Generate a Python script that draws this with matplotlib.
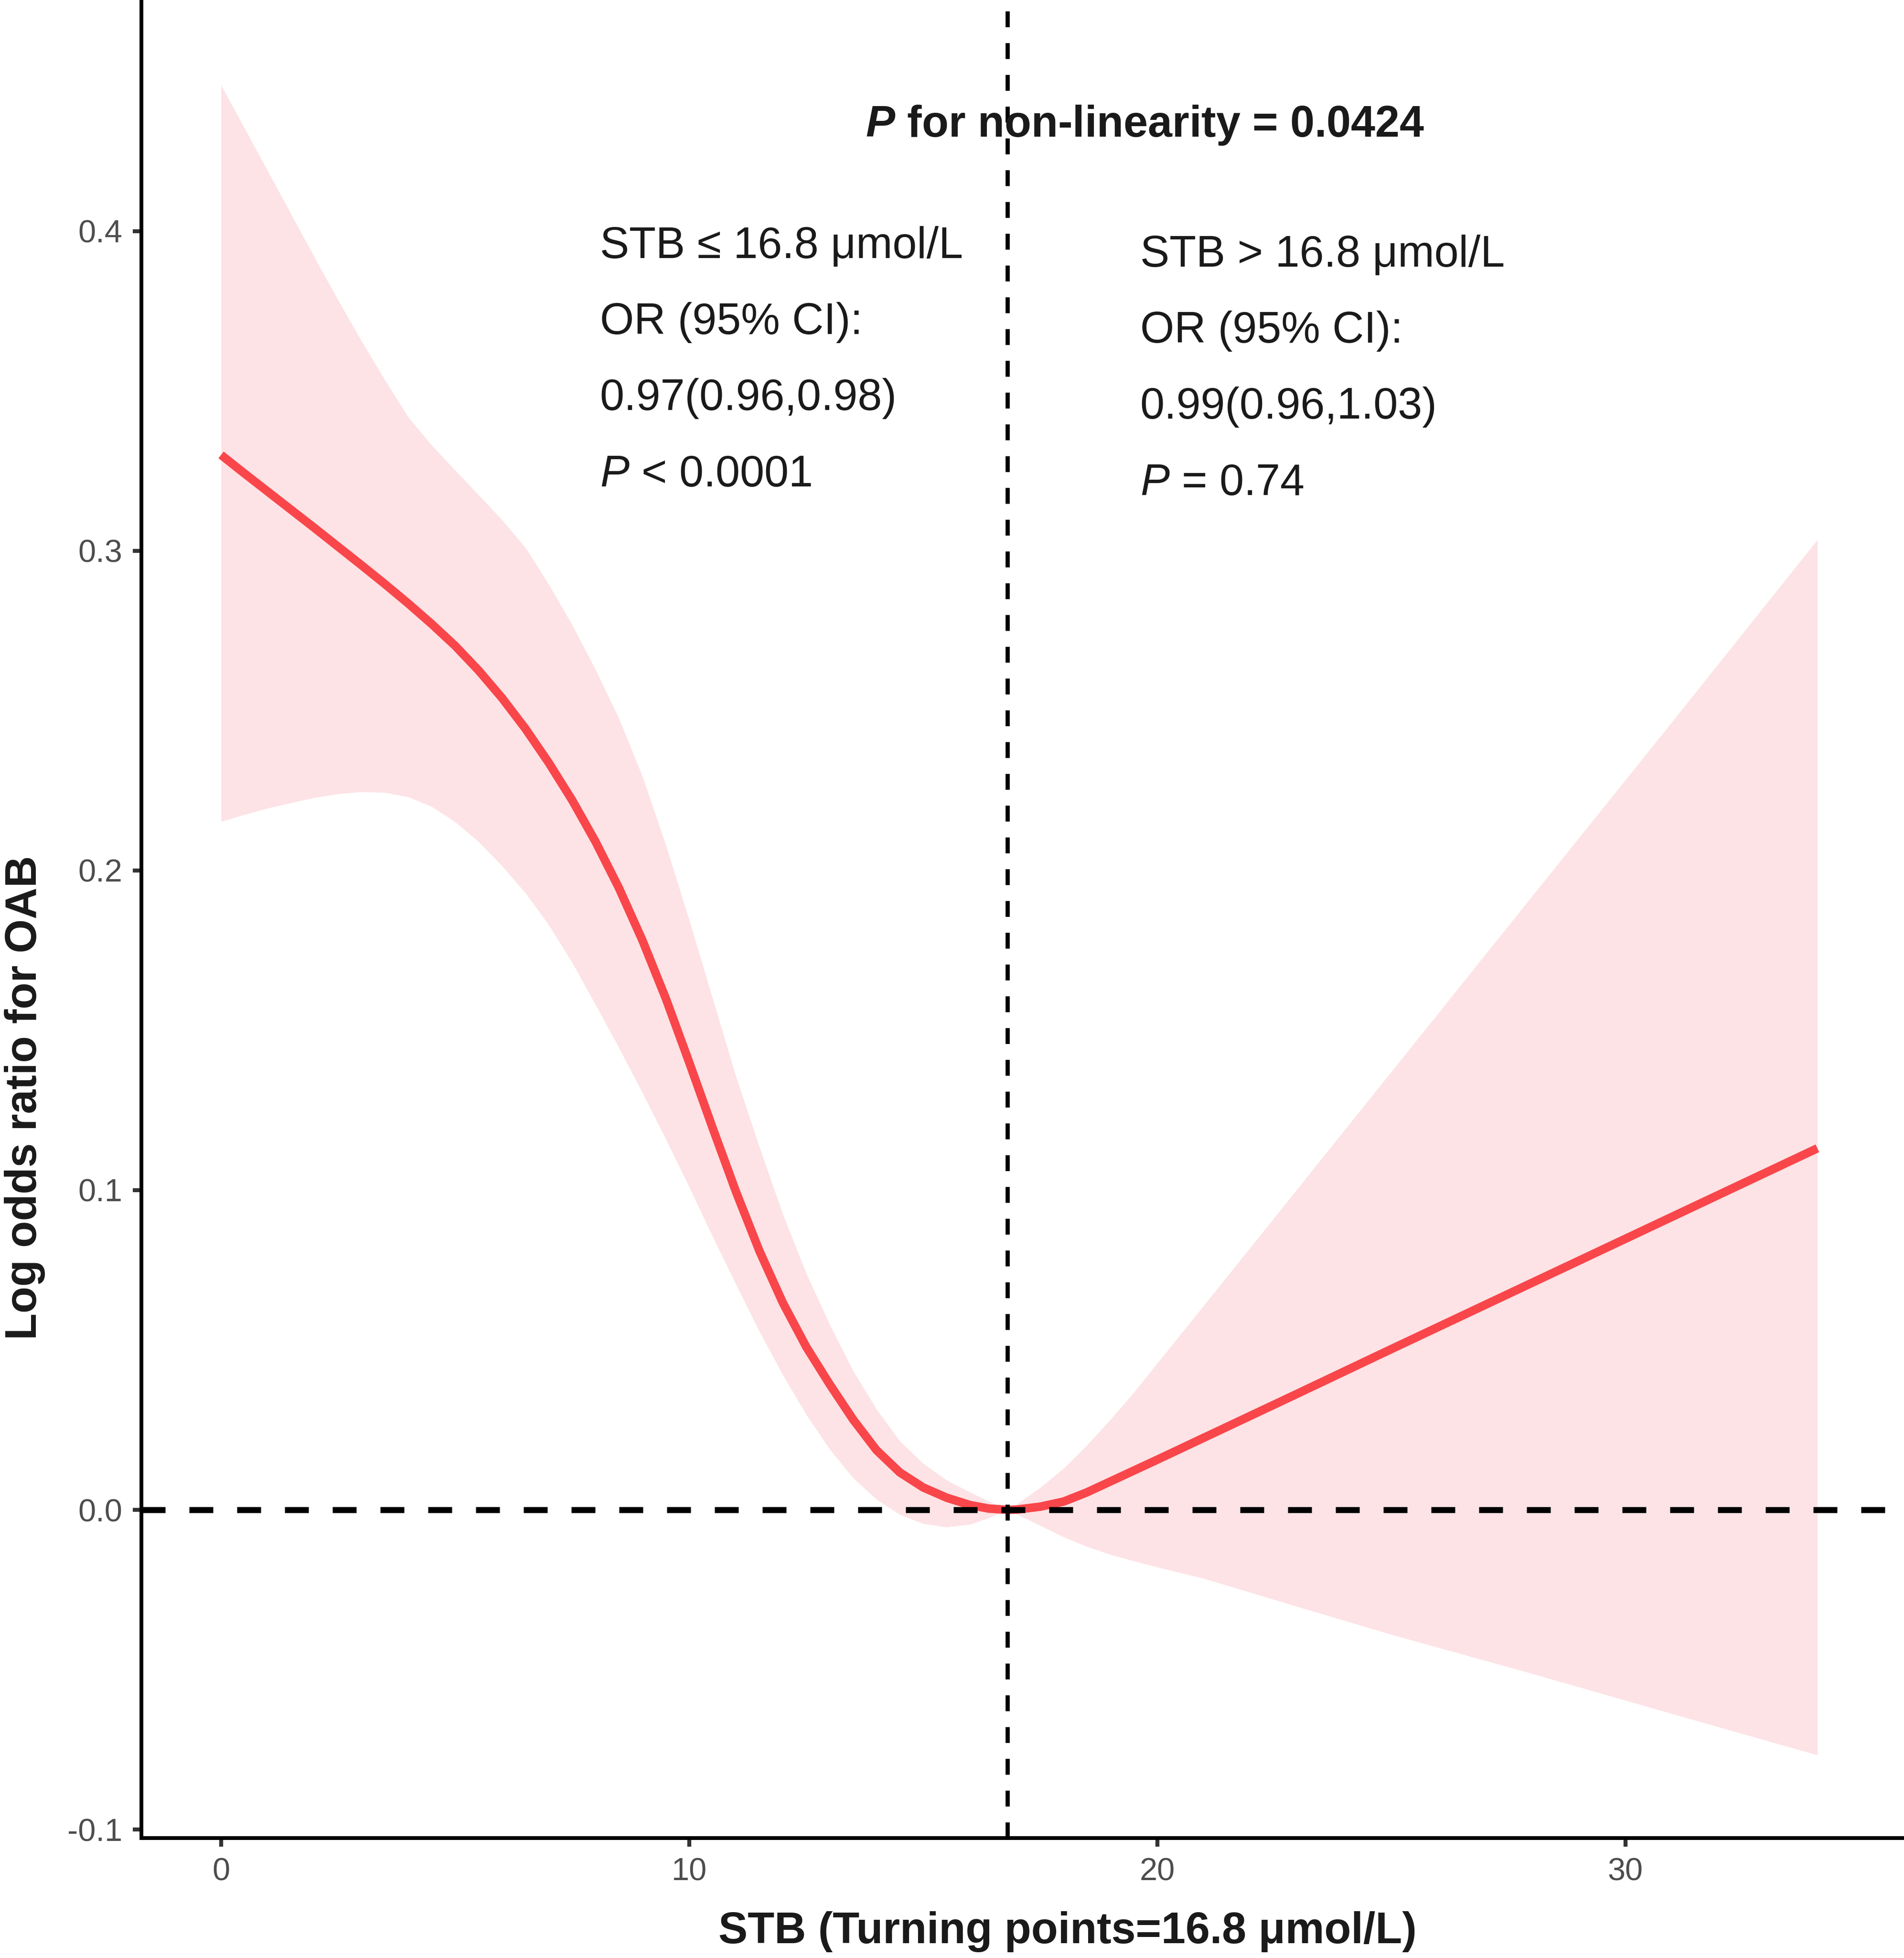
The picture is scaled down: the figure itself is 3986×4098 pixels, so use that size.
import matplotlib
matplotlib.use("Agg")
import matplotlib.pyplot as plt

# === Fonts ===
plt.rcParams['font.family'] = ['Liberation Sans', 'DejaVu Sans']
plt.rcParams['mathtext.fontset'] = 'custom'
plt.rcParams['mathtext.rm'] = 'Liberation Sans'
plt.rcParams['mathtext.it'] = 'Liberation Sans:italic'
plt.rcParams['mathtext.bf'] = 'Liberation Sans:bold'
plt.rcParams['mathtext.bfit'] = 'Liberation Sans:bold:italic'

# === Data ===
stb = [0, 0.5, 1, 1.5, 2, 2.5, 3, 3.5, 4, 4.5, 5, 5.5, 6, 6.5, 7, 7.5, 8, 8.5,
       9, 9.5, 10, 10.5, 11, 11.5, 12, 12.5, 13, 13.5, 14, 14.5, 15, 15.5, 16, 16.4, 16.8,
       17, 17.5, 18, 18.5, 19, 19.5, 20, 21, 23, 25, 28, 31, 34.1]
log_or = [0.330, 0.3242, 0.3185, 0.3128, 0.3071, 0.3013, 0.2955, 0.2896, 0.2835, 0.2771,
          0.2703, 0.2626, 0.2540, 0.2444, 0.2337, 0.2220, 0.2090, 0.1945,
          0.1782, 0.1600, 0.1400, 0.1195, 0.0995, 0.0810, 0.0648, 0.0510, 0.0393, 0.0283,
          0.0187, 0.0117, 0.0070, 0.0038, 0.0015, 0.0004, 0.0,
          0.0001, 0.001, 0.0026, 0.0055, 0.0089, 0.0123, 0.0157, 0.0226, 0.0364,
          0.0503, 0.0710, 0.0917, 0.1131]
ci_upper = [0.4457, 0.4322, 0.4187, 0.4052, 0.3917, 0.3784, 0.3656, 0.3534, 0.3418, 0.3330,
            0.3252, 0.3175, 0.3097, 0.3010, 0.2895, 0.2768, 0.2628, 0.2475,
            0.2295, 0.2080, 0.1845, 0.1600, 0.1355, 0.1135, 0.0925, 0.0740, 0.0580, 0.0435,
            0.0315, 0.0215, 0.0145, 0.0093, 0.0055, 0.0027, 0.0,
            0.0018, 0.007, 0.013, 0.0203, 0.0283, 0.0368, 0.0459, 0.0641, 0.1006,
            0.1371, 0.1919, 0.2466, 0.3035]
ci_lower = [0.2153, 0.2175, 0.2195, 0.2212, 0.2228, 0.2240, 0.2246, 0.2244, 0.2230, 0.2200,
            0.2152, 0.2090, 0.2015, 0.1930, 0.1830, 0.1712, 0.1580, 0.1445,
            0.1305, 0.1160, 0.1010, 0.0855, 0.0705, 0.0558, 0.0422, 0.0298, 0.0190, 0.0100,
            0.0033, -0.0015, -0.0043, -0.0054, -0.0045, -0.0025, 0.0,
            -0.0014, -0.0049, -0.0085, -0.0115, -0.0140, -0.0160, -0.0179, -0.0215, -0.0303,
            -0.0390, -0.0512, -0.0638, -0.0767]

turning_point = 16.8
x_ticks = [0, 10, 20, 30]
y_ticks = [-0.1, 0.0, 0.1, 0.2, 0.3, 0.4]
y_tick_labels = ['-0.1', '0.0', '0.1', '0.2', '0.3', '0.4']

# === Plot ===
fig = plt.figure(figsize=(3986 / 300, 4098 / 300), dpi=300)
ax = fig.add_axes([0.0743, 0.0612, 1 - 0.0743, 1 - 0.0612])

ax.fill_between(stb, ci_lower, ci_upper, color='#FDE3E6', linewidth=0, zorder=1)
ax.plot(stb, log_or, color='#F9464A', linewidth=4.27, solid_capstyle='butt',
        solid_joinstyle='round', zorder=2)
ax.axhline(0, color='black', linewidth=3, linestyle=(0, (4, 4)), zorder=3)
ax.axvline(turning_point, color='black', linewidth=2.1, linestyle=(0, (3.8, 3.8)), zorder=3)

ax.set_xlim(-1.70, 35.95)
ax.set_ylim(-0.1027, 0.4723)
ax.set_xticks(x_ticks)
ax.set_yticks(y_ticks)
ax.set_yticklabels(y_tick_labels)

for side in ['top', 'right']:
    ax.spines[side].set_visible(False)
for side in ['left', 'bottom']:
    ax.spines[side].set_linewidth(1.9)
    ax.spines[side].set_color('black')

ax.tick_params(axis='both', length=4.3, width=2.0, color='#333333',
               labelsize=16, labelcolor='#4D4D4D', pad=5.3)

# === Annotations ===
txt = dict(fontsize=22, color='#1A1A1A', ha='left', va='baseline')
ax.text(13.77, 0.4296, r'$\mathbfit{P}$ for non-linearity = 0.0424',
        fontweight='bold', **txt)

left_lines = ['STB ≤ 16.8 μmol/L', 'OR (95% CI):', '0.97(0.96,0.98)', r'$\it{P}$ < 0.0001']
left_y = [0.3916, 0.3679, 0.3441, 0.3202]
for s, yy in zip(left_lines, left_y):
    ax.text(8.09, yy, s, **txt)

right_lines = ['STB > 16.8 μmol/L', 'OR (95% CI):', '0.99(0.96,1.03)', r'$\it{P}$ = 0.74']
right_y = [0.3889, 0.3652, 0.3414, 0.3175]
for s, yy in zip(right_lines, right_y):
    ax.text(19.63, yy, s, **txt)

# === Axis titles ===
fig.text(0.5607, 0.0134, 'STB (Turning points=16.8 μmol/L)', fontsize=22,
         fontweight='bold', color='#1A1A1A', ha='center', va='center')
fig.text(52 / 3986, 1 - 2297 / 4098, 'Log odds ratio for OAB', fontsize=22,
         fontweight='bold', color='#1A1A1A', ha='center', va='center', rotation=90)

fig.savefig('out.png', dpi=300, facecolor='white')
